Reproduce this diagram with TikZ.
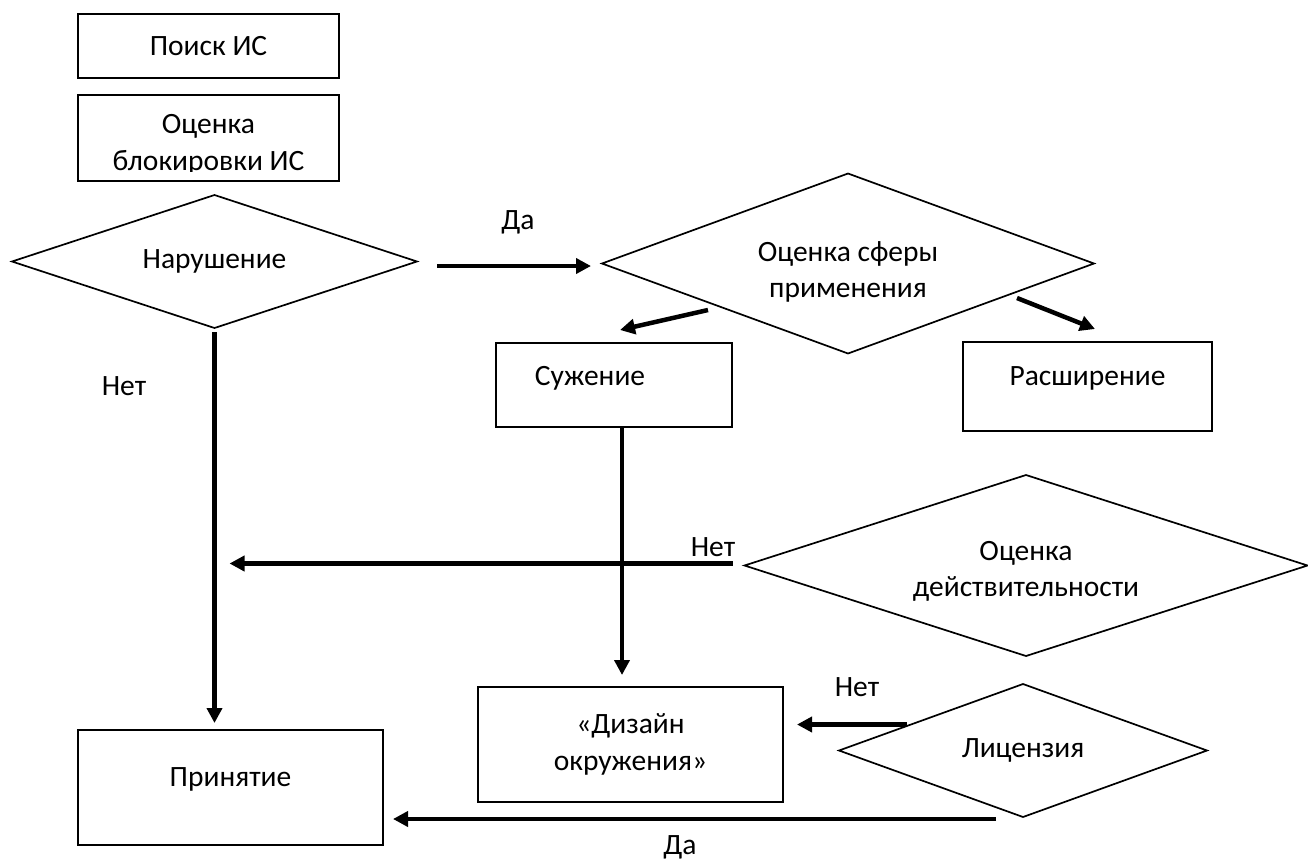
\documentclass[tikz,border=0pt]{standalone}
\usepackage{fontspec}
\setmainfont{Carlito}
\usetikzlibrary{arrows.meta,shapes.geometric}
\begin{document}
\begin{tikzpicture}[x=1pt,y=-1pt,
  every node/.style={font=\fontsize{29.5}{36.5}\selectfont},
  box/.style={draw,line width=1.8pt,rectangle,inner sep=0pt,outer sep=0pt,align=center},
  dia/.style={draw,line width=1.7pt,diamond,inner sep=0pt,outer sep=0pt,align=center},
  arr/.style={line width=4.5pt,-{Triangle[length=15pt,width=15pt]}},
  lbl/.style={inner sep=0pt}]
\useasboundingbox[fill=white] (0,0) rectangle (1308,860);

% rectangles
\node[box,minimum width=261pt,minimum height=64pt] (poisk) at (208.5,46) {Поиск ИС};
\begin{scope}
  \clip (79,96) rectangle (338,171);
  \node[lbl,align=center] (blokt) at (208.5,145) {Оценка\\блокировки ИС};
\end{scope}
\node[box,minimum width=261pt,minimum height=86pt] (blok) at (208.5,138) {};
\node[box,minimum width=236pt,minimum height=84pt,text height=0pt,text depth=0pt] (suzh) at (614,385) {\hspace*{-48pt}Сужение};
\node[box,minimum width=249pt,minimum height=89pt,text height=0pt,text depth=2pt] (rassh) at (1087.5,386.5) {Расширение};
\node[box,minimum width=305pt,minimum height=115pt] (diz) at (630.5,744.5) {«Дизайн\\окружения»};
\node[box,minimum width=305pt,minimum height=115pt,text height=0pt,text depth=3pt] (prin) at (230.5,787.5) {Принятие};

% diamonds
\node[dia,aspect=3.05,minimum width=405pt,minimum height=133pt] (nar) at (214.5,261.5) {Нарушение};
\node[dia,aspect=2.73,minimum width=492pt,minimum height=180pt] (sfera) at (848,263.5) {\rule{0pt}{37pt}Оценка сферы\\применения};
\node[dia,aspect=3.11,minimum width=563pt,minimum height=181pt] (deyst) at (1026,565.5) {\rule{0pt}{31pt}Оценка\\действительности};
\node[dia,aspect=2.77,minimum width=368pt,minimum height=133pt] (lic) at (1023,750.5) {Лицензия};

% labels
\node[lbl] (da1) at (518,222) {Да};
\node[lbl] (net1) at (124,386) {Нет};
\node[lbl] (net2) at (713,547) {Нет};
\node[lbl] (net3) at (857,687) {Нет};
\node[lbl] (da2) at (680,847) {Да};

% connectors
\draw[arr] ([shift={(20,4.5)}]nar.east) -- ([shift={(-11,2.5)}]sfera.west);
\draw[arr] ([shift={(-140,46.5)}]sfera.center) -- ([shift={(6,-13)}]suzh.north);
\draw[arr] ([shift={(169,34.5)}]sfera.center) -- ([shift={(7.5,-13)}]rassh.north);
\draw[arr,shorten <=4pt,shorten >=7pt] (nar.south) -- (nar.south |- prin.north);
\draw[arr,shorten >=12pt] ([shift={(8,0)}]suzh.south) -- ([shift={(8,0)}]suzh.south |- diz.north);
\coordinate (join) at (nar.south |- deyst.west);
\draw[arr,shorten <=12pt,shorten >=15pt] ([shift={(0,-2)}]deyst.west) -- ([shift={(0,-2)}]join);
\draw[arr] ([shift={(-116,-26)}]lic.center) -- ([shift={(14,-20)}]diz.east);
\draw[arr] ([shift={(-27,2)}]lic.south) -- ([shift={(10,31.5)}]prin.east);
\end{tikzpicture}
\end{document}
